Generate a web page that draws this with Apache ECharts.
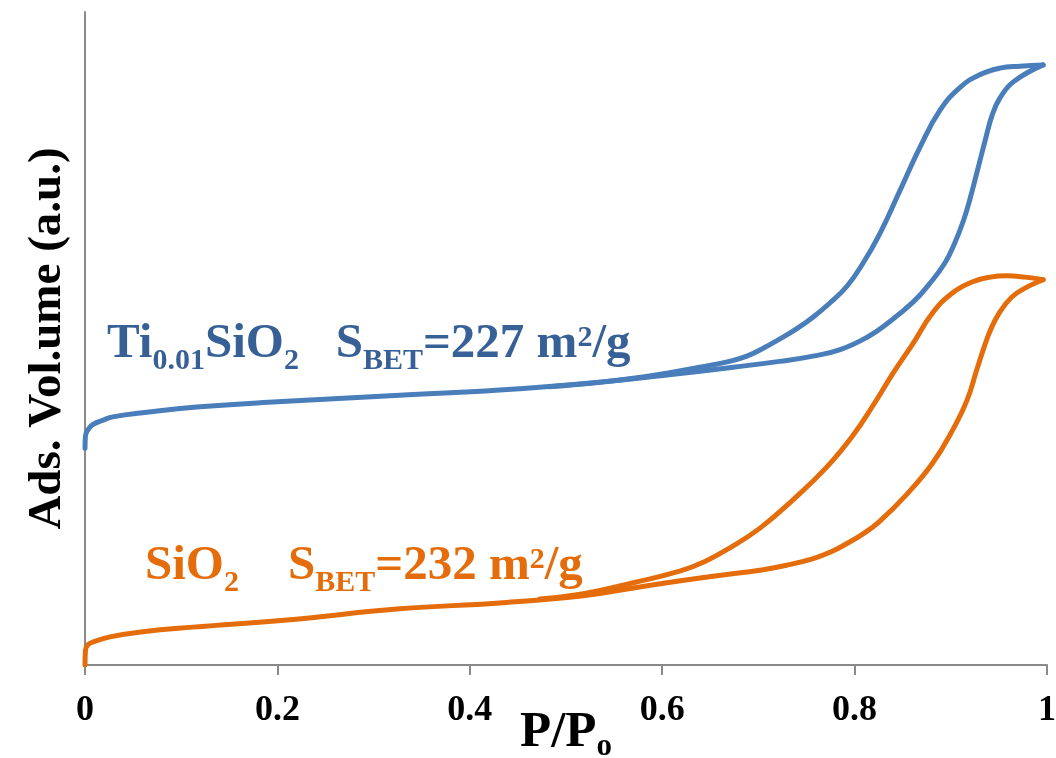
<!DOCTYPE html>
<html><head><meta charset="utf-8">
<script src="https://cdn.jsdelivr.net/npm/echarts@6/dist/echarts.min.js"></script>
<style>html,body{margin:0;padding:0;background:#fff}#c{width:1056px;height:758px}</style>
</head><body><div id="c"></div>
<script>
// Ti0.01SiO2 isotherm (arbitrary units, offset)
const tiAdsX = [0, 0.0005, 0.003, 0.008, 0.019, 0.029, 0.064, 0.116, 0.2, 0.327, 0.431, 0.535, 0.605, 0.674, 0.722, 0.757, 0.785, 0.813, 0.834, 0.861, 0.878, 0.894, 0.904, 0.913, 0.920, 0.928, 0.936, 0.943, 0.951, 0.965, 0.996];
const tiAdsY = [33.2, 35.1, 36.0, 36.8, 37.5, 38.0, 38.7, 39.5, 40.3, 41.3, 42.1, 43.3, 44.4, 45.6, 46.5, 47.3, 48.3, 50.2, 52.3, 55.6, 58.4, 61.6, 64.6, 68.0, 71.4, 75.9, 80.5, 84.2, 86.8, 89.3, 91.9];
const tiDesX = [0.996, 0.972, 0.951, 0.930, 0.910, 0.889, 0.868, 0.847, 0.826, 0.809, 0.792, 0.774, 0.757, 0.740, 0.722, 0.705, 0.688, 0.670, 0.639, 0.605, 0.570, 0.535, 0.483];
const tiDesY = [91.9, 91.7, 91.4, 90.4, 88.5, 85.0, 79.3, 72.6, 66.0, 61.6, 58.0, 55.4, 53.3, 51.5, 49.9, 48.5, 47.3, 46.5, 45.6, 44.7, 43.9, 43.3, 42.6];
// SiO2 isotherm
const siAdsX = [0, 0.0005, 0.003, 0.008, 0.026, 0.060, 0.112, 0.210, 0.327, 0.431, 0.518, 0.570, 0.619, 0.653, 0.705, 0.730, 0.757, 0.775, 0.792, 0.810, 0.826, 0.854, 0.881, 0.902, 0.917, 0.927, 0.938, 0.946, 0.956, 0.969, 0.996];
const siAdsY = [0, 2.3, 3.1, 3.5, 4.3, 5.1, 5.8, 6.9, 8.6, 9.5, 10.6, 11.8, 12.9, 13.6, 14.6, 15.3, 16.3, 17.3, 18.6, 20.2, 22.0, 26.1, 30.9, 36.0, 40.6, 45.2, 50.1, 52.8, 55.1, 57.0, 59.0];
const siDesX = [0.996, 0.977, 0.958, 0.941, 0.923, 0.902, 0.881, 0.861, 0.840, 0.819, 0.798, 0.771, 0.736, 0.702, 0.670, 0.645, 0.619, 0.570, 0.518, 0.473];
const siDesY = [59.0, 59.4, 59.6, 59.4, 58.7, 57.0, 53.9, 49.3, 44.7, 39.7, 35.1, 30.3, 25.3, 21.0, 17.9, 15.9, 14.4, 12.6, 10.9, 10.1];
const xTicks = [0, 0.2, 0.4, 0.6, 0.8, 1];

const BLUE = '#4a7ebb', ORANGE = '#e46c0a', BLUE_TXT = '#376096';
const FONT = "'Liberation Serif','Times New Roman',serif";
const zip = (xs, ys) => xs.map((x, i) => [x, ys[i]]);

function line(name, xs, ys, color) {
  return { name, type: 'line', data: zip(xs, ys), showSymbol: false, symbol: 'none', smooth: 0.45,
    lineStyle: { color, width: 5, cap: 'round', join: 'round' }, silent: true, animation: false };
}
function richStyles(color) {
  const base = { fontFamily: FONT, fontWeight: 'bold', fill: color, color: color, verticalAlign: 'top' };
  return {
    n: Object.assign({ fontSize: 49, height: 49 }, base),
    s: Object.assign({ fontSize: 30, height: 82 }, base),
    p: Object.assign({ fontSize: 30, height: 36 }, base)
  };
}

const chart = echarts.init(document.getElementById('c'), null, { renderer: 'canvas' });
chart.setOption({
  animation: false,
  backgroundColor: '#ffffff',
  grid: { left: 85, right: 9, top: 12, bottom: 93, containLabel: false, outerBoundsMode: 'none' },
  xAxis: {
    type: 'value', min: xTicks[0], max: xTicks[xTicks.length - 1], interval: 0.2,
    name: '{a|P/P}{b|o}', nameLocation: 'middle', nameGap: 42, nameMoveOverlap: false,
    nameTextStyle: { rich: {
      a: { fontSize: 51, height: 51, verticalAlign: 'top', fontFamily: FONT, fontWeight: 'bold', color: '#000' },
      b: { fontSize: 31, height: 80, verticalAlign: 'top', fontFamily: FONT, fontWeight: 'bold', color: '#000' } } },
    axisLine: { show: true, lineStyle: { color: '#8a8a8a', width: 2 } },
    axisTick: { show: true, inside: false, length: 10, lineStyle: { color: '#8a8a8a', width: 2 } },
    axisLabel: { margin: 28, fontSize: 36, fontWeight: 'bold', fontFamily: FONT, color: '#000',
      formatter: v => String(+v.toFixed(1)) },
    splitLine: { show: false }
  },
  yAxis: {
    type: 'value', min: 0, max: 100,
    name: 'Ads. Vol.ume (a.u.)', nameLocation: 'middle', nameGap: 14, nameRotate: 90, nameMoveOverlap: false,
    nameTextStyle: { fontSize: 47, fontWeight: 'bold', fontFamily: FONT, color: '#000' },
    axisLine: { show: true, lineStyle: { color: '#8a8a8a', width: 2 } },
    axisTick: { show: false }, axisLabel: { show: false }, splitLine: { show: false }
  },
  series: [
    line('Ti ads', tiAdsX, tiAdsY, BLUE),
    line('Ti des', tiDesX, tiDesY, BLUE),
    line('Si ads', siAdsX, siAdsY, ORANGE),
    line('Si des', siDesX, siDesY, ORANGE)
  ],
  graphic: [
    { type: 'text', left: 107, top: 320, silent: true,
      style: { text: '{n|Ti}{s|0.01}{n|SiO}{s|2}{n|   S}{s|BET}{n|=227 m}{p|2}{n|/g}', rich: richStyles(BLUE_TXT),
        fontFamily: FONT, fontWeight: 'bold', fontSize: 49, fill: BLUE_TXT } },
    { type: 'text', left: 145, top: 542, silent: true,
      style: { text: '{n|SiO}{s|2}{n|    S}{s|BET}{n|=232 m}{p|2}{n|/g}', rich: richStyles(ORANGE),
        fontFamily: FONT, fontWeight: 'bold', fontSize: 49, fill: ORANGE } }
  ]
});
</script></body></html>
